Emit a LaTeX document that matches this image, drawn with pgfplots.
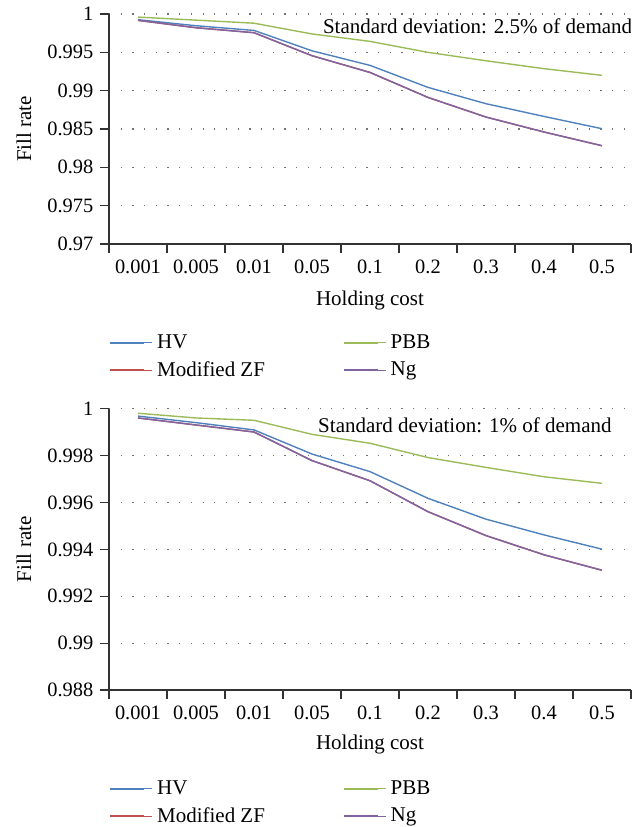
\documentclass[border=0pt]{standalone}
\usepackage{fontspec}
\setmainfont{Liberation Serif}
\usepackage{pgfplots}
\pgfplotsset{compat=1.18}

\definecolor{hvblue}{HTML}{4F81BD}
\definecolor{zfred}{HTML}{C0504D}
\definecolor{pbbgreen}{HTML}{9BBB59}
\definecolor{ngpurple}{HTML}{8064A2}

\pgfplotsset{
  fillrate/.style={
    scale only axis,
    width=261pt,
    axis x line*=bottom,
    axis y line*=left,
    axis line style={black!80, line width=0.6pt},
    tick style={black!80, line width=0.6pt},
    tick align=outside,
    major tick length=4.3pt,
    xmin=0, xmax=9,
    xtick={0,...,9},
    x tick label as interval,
    xticklabels={0.001,0.005,0.01,0.05,0.1,0.2,0.3,0.4,0.5},
    ymajorgrids,
    major grid style={black!55, line width=0.6pt, dash pattern=on 0.6pt off 5.25pt},
    scaled y ticks=false,
    /pgf/number format/assume math mode=true,
    yticklabel style={/pgf/number format/fixed, /pgf/number format/precision=3},
    tick label style={font=\fontsize{10.2}{12}\selectfont},
    label style={font=\fontsize{10.5}{12.6}\selectfont},
    xlabel={Holding cost},
    ylabel={Fill rate},
    xlabel style={at={(axis description cs:0.5,0)}, anchor=center, yshift=-28pt},
    ylabel style={at={(axis description cs:-0.163,0.5)}, anchor=center},
    legend columns=2,
    legend cell align=left,
    legend image code/.code={
      \draw[#1, line width=1pt] (0pt,0pt) -- (17pt,0pt);
      \path (0pt,0pt) -- (21pt,0pt);
    },
    legend style={at={(axis description cs:0,0)}, anchor=north west, yshift=-43pt,
      draw=none, fill=none, inner sep=0pt,
      font=\fontsize{10.5}{12.6}\selectfont,
      /tikz/every even column/.append style={column sep=37pt},
      row sep=1.2pt},
    every axis plot/.append style={line width=0.7pt, mark=none},
  }
}

\begin{document}
\begin{tikzpicture}
\begin{axis}[fillrate, height=115pt,
  ymin=0.97, ymax=1,
  ytick={0.97,0.975,0.98,0.985,0.99,0.995,1}]
\addplot[hvblue] coordinates {
(0.5,0.99926) (1.5,0.99847) (2.5,0.99786) (3.5,0.99520) (4.5,0.99330)
(5.5,0.99043) (6.5,0.98830) (7.5,0.98664) (8.5,0.98504)};
\addlegendentry{HV}
\addplot[pbbgreen] coordinates {
(0.5,0.99960) (1.5,0.99920) (2.5,0.99880) (3.5,0.99740) (4.5,0.99643)
(5.5,0.99500) (6.5,0.99390) (7.5,0.99287) (8.5,0.99200)};
\addlegendentry{PBB}
\addplot[zfred] coordinates {
(0.5,0.99917) (1.5,0.99821) (2.5,0.99756) (3.5,0.99456) (4.5,0.99238)
(5.5,0.98912) (6.5,0.98656) (7.5,0.98461) (8.5,0.98282)};
\addlegendentry{Modified ZF}
\addplot[ngpurple] coordinates {
(0.5,0.99917) (1.5,0.99821) (2.5,0.99756) (3.5,0.99456) (4.5,0.99238)
(5.5,0.98912) (6.5,0.98656) (7.5,0.98461) (8.5,0.98282)};
\addlegendentry{Ng}
\node[anchor=east, font=\fontsize{10.5}{12.6}\selectfont, inner sep=0pt]
  at (rel axis cs:1.003,0.948) {Standard deviation: 2.5\% of demand};
\end{axis}

\begin{axis}[fillrate, at={(0,-223pt)}, height=140.6pt,
  ymin=0.988, ymax=1,
  ytick={0.988,0.99,0.992,0.994,0.996,0.998,1},
  xlabel style={yshift=0.8pt}]
\addplot[hvblue] coordinates {
(0.5,0.99969) (1.5,0.99941) (2.5,0.99910) (3.5,0.99807) (4.5,0.99732)
(5.5,0.99618) (6.5,0.99529) (7.5,0.99462) (8.5,0.99401)};
\addlegendentry{HV}
\addplot[pbbgreen] coordinates {
(0.5,0.99981) (1.5,0.99961) (2.5,0.99951) (3.5,0.99891) (4.5,0.99853)
(5.5,0.99792) (6.5,0.99750) (7.5,0.99710) (8.5,0.99682)};
\addlegendentry{PBB}
\addplot[zfred] coordinates {
(0.5,0.99961) (1.5,0.99931) (2.5,0.99901) (3.5,0.99779) (4.5,0.99693)
(5.5,0.99561) (6.5,0.99459) (7.5,0.99377) (8.5,0.99311)};
\addlegendentry{Modified ZF}
\addplot[ngpurple] coordinates {
(0.5,0.99961) (1.5,0.99931) (2.5,0.99901) (3.5,0.99779) (4.5,0.99693)
(5.5,0.99561) (6.5,0.99459) (7.5,0.99377) (8.5,0.99311)};
\addlegendentry{Ng}
\node[anchor=east, font=\fontsize{10.5}{12.6}\selectfont, inner sep=0pt]
  at (rel axis cs:0.9636,0.9424) {Standard deviation: 1\% of demand};
\end{axis}

\pgfresetboundingbox
\path[use as bounding box] (-54.5pt,-291.5pt) rectangle (267.5pt,122pt);
\end{tikzpicture}
\end{document}
